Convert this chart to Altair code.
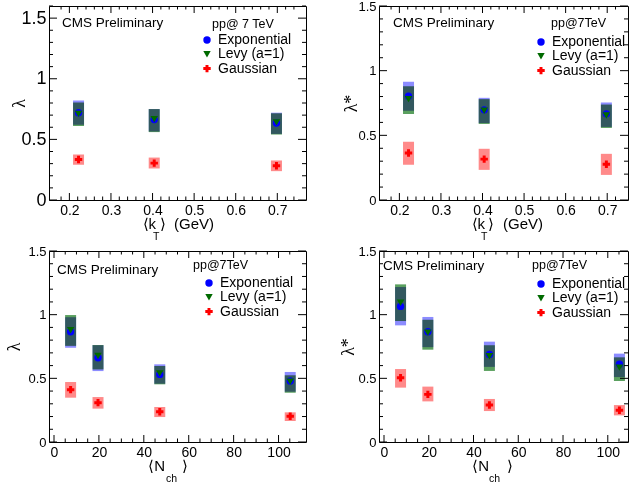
import altair as alt
import pandas as pd

FONT = "Liberation Sans"
SERIES = ["Exponential", "Levy (a=1)", "Gaussian"]
BOX_KEYS = ["exp box", "levy box", "gauss box"]
MARK_COLORS = ["#0000ff", "#006a00", "#ff0000"]
BOX_COLORS = ["#8c8cff", "#5aa05f", "#ff8a8a"]
SHAPES = ["circle", "triangle-down", "cross"]

# ---------------- data ----------------
kt = [0.222, 0.404, 0.698]
nch = [7.4, 19.6, 47.1, 105.2]

# lambda vs <kT>
a_exp = [0.720, 0.663, 0.635]
a_exp_lo = [0.620, 0.565, 0.545]
a_exp_hi = [0.820, 0.750, 0.720]
a_levy = [0.710, 0.666, 0.640]
a_levy_lo = [0.610, 0.560, 0.540]
a_levy_hi = [0.805, 0.750, 0.715]
a_gauss = [0.334, 0.304, 0.282]
a_gauss_lo = [0.290, 0.260, 0.238]
a_gauss_hi = [0.376, 0.350, 0.326]

# lambda* vs <kT>
b_exp = [0.803, 0.697, 0.666]
b_exp_lo = [0.690, 0.595, 0.565]
b_exp_hi = [0.915, 0.790, 0.754]
b_levy = [0.780, 0.690, 0.653]
b_levy_lo = [0.665, 0.588, 0.557]
b_levy_hi = [0.880, 0.780, 0.738]
b_gauss = [0.363, 0.316, 0.277]
b_gauss_lo = [0.272, 0.233, 0.194]
b_gauss_hi = [0.450, 0.396, 0.357]

# lambda vs <Nch>
c_exp = [0.866, 0.662, 0.531, 0.479]
c_exp_lo = [0.740, 0.557, 0.458, 0.395]
c_exp_hi = [0.980, 0.760, 0.610, 0.550]
c_levy = [0.877, 0.675, 0.539, 0.474]
c_levy_lo = [0.755, 0.570, 0.453, 0.387]
c_levy_hi = [0.997, 0.762, 0.597, 0.524]
c_gauss = [0.411, 0.309, 0.238, 0.202]
c_gauss_lo = [0.348, 0.262, 0.196, 0.165]
c_gauss_hi = [0.471, 0.353, 0.275, 0.233]

# lambda* vs <Nch>
d_exp = [1.065, 0.866, 0.688, 0.610]
d_exp_lo = [0.916, 0.745, 0.590, 0.510]
d_exp_hi = [1.217, 0.982, 0.788, 0.694]
d_levy = [1.094, 0.859, 0.673, 0.584]
d_levy_lo = [0.950, 0.725, 0.558, 0.479]
d_levy_hi = [1.238, 0.960, 0.760, 0.665]
d_gauss = [0.505, 0.374, 0.290, 0.249]
d_gauss_lo = [0.427, 0.319, 0.243, 0.209]
d_gauss_hi = [0.573, 0.435, 0.338, 0.290]

# tick values
kt_major = [0.2, 0.3, 0.4, 0.5, 0.6, 0.7]
kt_minor = [0.18, 0.22, 0.24, 0.26, 0.28, 0.32, 0.34, 0.36, 0.38, 0.42, 0.44, 0.46,
            0.48, 0.52, 0.54, 0.56, 0.58, 0.62, 0.64, 0.66, 0.68, 0.72, 0.74]
nch_major = [0, 20, 40, 60, 80, 100]
nch_minor = [5, 10, 15, 25, 30, 35, 45, 50, 55, 65, 70, 75, 85, 90, 95, 105]
y_major = [0, 0.5, 1, 1.5]
y_minor = [0.1, 0.2, 0.3, 0.4, 0.6, 0.7, 0.8, 0.9, 1.1, 1.2, 1.3, 1.4, 1.6]


def make_df(xs, groups):
    rows = []
    for name, key, (v, lo, hi) in zip(SERIES, BOX_KEYS, groups):
        for x, a, b, c in zip(xs, v, lo, hi):
            rows.append({"x": x, "series": name, "box": key, "val": a, "lo": b, "hi": c})
    return pd.DataFrame(rows)


def txt(s, x, y, size, align="left", font=FONT):
    return alt.Chart(alt.Data(values=[{}])).mark_text(
        text=s, align=align, baseline="middle", fontSize=size, font=font, color="black"
    ).encode(x=alt.value(x), y=alt.value(y))


def panel(df, cfg):
    w, h = cfg["w"], cfg["h"]
    xscale = alt.Scale(domain=cfg["xdom"], nice=False, zero=False)
    yscale = alt.Scale(domain=cfg["ydom"], nice=False, zero=False)
    xaxis = alt.Axis(values=cfg["xmaj"], title=None, ticks=False, domain=False, grid=False,
                     labelFontSize=14, labelFont=FONT, labelPadding=3, labelFlush=False,
                     format="~f", labelColor="black")
    yaxis = alt.Axis(values=y_major, title=cfg["ytitle"], ticks=False, domain=False, grid=False,
                     labelFontSize=cfg["ylab"], labelFont=FONT, labelPadding=3, format="~f",
                     labelColor="black", titleFont="Liberation Serif", titleFontSize=18,
                     titleFontWeight="normal", titleColor="black", titleX=cfg["ytx"],
                     titleY=h / 2, titleAlign="center", titleBaseline="middle", titleAngle=270)
    X = alt.X("x:Q", scale=xscale, axis=xaxis)

    def Y(field):
        return alt.Y(f"{field}:Q", scale=yscale, axis=yaxis)

    xmax = cfg["xdom"][1]
    ymax = cfg["ydom"][1]
    xmaj = [v for v in cfg["xmaj"] if v <= xmax]
    xmin = [v for v in cfg["xmin"] if v <= xmax]
    ymaj = [v for v in y_major if v <= ymax]
    ymin = [v for v in y_minor if v <= ymax]

    def xt(vals, y0, y1):
        return alt.Chart(pd.DataFrame({"x": vals})).mark_rule(color="black", strokeWidth=1).encode(
            x=X, y=alt.value(y0), y2=alt.value(y1))

    def yt(vals, x0, x1):
        return alt.Chart(pd.DataFrame({"val": vals})).mark_rule(color="black", strokeWidth=1).encode(
            y=Y("val"), x=alt.value(x0), x2=alt.value(x1))

    # systematic-error boxes (one mark, so the multiply blend mixes overlapping boxes)
    bars = alt.Chart(df).mark_bar(size=11, clip=True, blend="multiply").encode(
        x=X, y=Y("lo"), y2="hi:Q",
        fill=alt.Fill("box:N", scale=alt.Scale(domain=BOX_KEYS, range=BOX_COLORS), legend=None))

    lx, ly = cfg["leg"]
    leg = alt.Legend(title=None, orient="none", legendX=lx, legendY=ly,
                     labelFont=FONT, labelFontSize=14, labelColor="black",
                     symbolSize=55, rowPadding=0.3)
    pts = alt.Chart(df).mark_point(filled=True, size=55, opacity=1).encode(
        x=X, y=Y("val"),
        color=alt.Color("series:N", scale=alt.Scale(domain=SERIES, range=MARK_COLORS), legend=leg),
        shape=alt.Shape("series:N", scale=alt.Scale(domain=SERIES, range=SHAPES), legend=leg))

    ticks = [
        xt(xmaj, h, h - 7), xt(xmin, h, h - 3.5), xt(xmaj, 0, 7), xt(xmin, 0, 3.5),
        yt(ymaj, 0, 8), yt(ymin, 0, 4), yt(ymaj, w, w - 8), yt(ymin, w, w - 4),
    ]
    xtp = cfg["xt"]
    texts = [
        txt("CMS Preliminary", cfg["cms"][0], cfg["cms"][1], 13.5),
        txt(cfg["energy"], cfg["en"][0], cfg["en"][1], 12.5),
        txt(xtp["main"], xtp["mx"], h + 24, 15, align="right"),
        txt(xtp["sub"], xtp["sx"], h + 37, 10.5),
        txt("⟩", xtp["cx"], h + 24, 15),
    ]
    if xtp.get("unit"):
        texts.append(txt(xtp["unit"], xtp["ux"], h + 24, 15))
    return alt.layer(bars, *ticks, pts, *texts).properties(width=w, height=h)


df_a = make_df(kt, [(a_exp, a_exp_lo, a_exp_hi), (a_levy, a_levy_lo, a_levy_hi), (a_gauss, a_gauss_lo, a_gauss_hi)])
df_b = make_df(kt, [(b_exp, b_exp_lo, b_exp_hi), (b_levy, b_levy_lo, b_levy_hi), (b_gauss, b_gauss_lo, b_gauss_hi)])
df_c = make_df(nch, [(c_exp, c_exp_lo, c_exp_hi), (c_levy, c_levy_lo, c_levy_hi), (c_gauss, c_gauss_lo, c_gauss_hi)])
df_d = make_df(nch, [(d_exp, d_exp_lo, d_exp_hi), (d_levy, d_levy_lo, d_levy_hi), (d_gauss, d_gauss_lo, d_gauss_hi)])

p1 = panel(df_a, dict(w=257, h=194, xdom=[0.163, 0.757], ydom=[0, 1.6], xmaj=kt_major, xmin=kt_minor,
                      ytitle="λ", ylab=18, ytx=-30, leg=(151, 27), cms=(13, 17), energy="pp@ 7 TeV", en=(163, 18),
                      xt=dict(main="⟨k", mx=107, sub="T", sx=104, cx=111, unit="(GeV)", ux=125)))
p2 = panel(df_b, dict(w=249, h=194, xdom=[0.163, 0.738], ydom=[0, 1.5], xmaj=kt_major, xmin=kt_minor,
                      ytitle="λ*", ylab=13, ytx=-28, leg=(155, 29), cms=(14, 17), energy="pp@7TeV", en=(172, 17),
                      xt=dict(main="⟨k", mx=106, sub="T", sx=102, cx=109, unit="(GeV)", ux=124)))
p3 = panel(df_c, dict(w=257, h=191, xdom=[0, 110], ydom=[0, 1.5], xmaj=nch_major, xmin=nch_minor,
                      ytitle="λ", ylab=13, ytx=-35, leg=(153, 25), cms=(8, 19), energy="pp@7TeV", en=(144, 14),
                      xt=dict(main="⟨N", mx=116, sub="ch", sx=117, cx=133)))
p4 = panel(df_d, dict(w=249, h=191, xdom=[0, 106.8], ydom=[0, 1.5], xmaj=nch_major, xmin=nch_minor,
                      ytitle="λ*", ylab=13, ytx=-31, leg=(155, 26), cms=(4, 15), energy="pp@7TeV", en=(153, 14),
                      xt=dict(main="⟨N", mx=110, sub="ch", sx=110, cx=128)))

chart = alt.concat(p1, p2, p3, p4, columns=2, spacing={"row": 51, "column": 73}, bounds="flush").resolve_scale(
    x="independent", y="independent", color="independent", shape="independent", fill="independent"
).configure_view(
    stroke="black", strokeWidth=1
).properties(
    padding={"left": 4, "top": -1, "right": 0, "bottom": 0}, background="white"
)

chart.save("out.html", embed_options={"renderer": "svg", "actions": False})
